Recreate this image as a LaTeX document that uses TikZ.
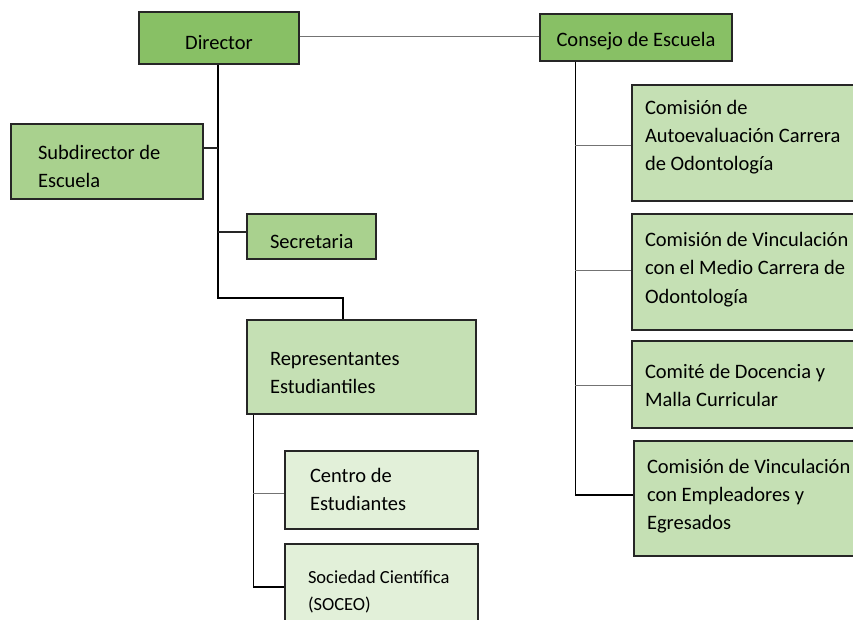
\documentclass[tikz,border=0pt]{standalone}
\usepackage{fontspec}
\setmainfont{Carlito}
\definecolor{gA}{HTML}{88C065}
\definecolor{gB}{HTML}{A9D18E}
\definecolor{gC}{HTML}{C5E0B4}
\definecolor{gD}{HTML}{E2F0D9}
\begin{document}
\begin{tikzpicture}[x=1pt,y=-1pt,
  box/.style={draw=black!85, line width=1.1pt, inner ysep=0pt,
    font=\fontsize{20.5}{28}\selectfont},
  lbox/.style={box, align=flush left},
  trunk/.style={black, line width=1.3pt},
  branch/.style={black!55, line width=0.9pt},
  lbranch/.style={black!85, line width=1.1pt}]
\useasboundingbox (0,0) rectangle (853,620);
\clip (0,0) rectangle (853,620);

% left side
\node[box, fill=gA, minimum width=160, minimum height=52, inner xsep=0pt, text height=30pt, text depth=6pt] (dir) at (219,38) {Director};
\node[lbox, fill=gB, minimum width=192, minimum height=75, inner xsep=27, text width=138, text height=20pt, text depth=23pt] (sub) at (107,161.5) {Subdirector de\\Escuela};
\node[lbox, fill=gB, minimum width=129, minimum height=45, inner xsep=23, text width=83, text height=30pt, text depth=7pt] (sec) at (311.5,236.5) {Secretaria};
\node[lbox, fill=gC, minimum width=229, minimum height=94, inner xsep=23, text width=183, text height=20pt, text depth=24pt] (rep) at (361.5,367) {Representantes\\Estudiantiles};
\node[lbox, fill=gD, minimum width=193, minimum height=78, inner xsep=25, text width=143, text height=20pt, text depth=36pt] (cen) at (381.5,490) {Centro de\\Estudiantes};
\node[lbox, fill=gD, minimum width=193, minimum height=96, inner xsep=23, text width=147,
  font=\fontsize{18.5}{27}\selectfont, text height=20pt, text depth=38pt] (soc) at (381.5,592) {Sociedad Científica\\(SOCEO)};

% right side
\node[box, fill=gA, minimum width=192, minimum height=47, inner xsep=0pt, text height=30pt, text depth=11pt] (con) at (636,37.5) {Consejo de Escuela};
\node[lbox, fill=gC, minimum width=238, minimum height=116, inner xsep=13, text width=212, text height=20pt, text depth=76pt] (c1) at (751,143) {Comisión de\\Autoevaluación Carrera\\de Odontología};
\node[lbox, fill=gC, minimum width=238, minimum height=116, inner xsep=13, text width=212, text height=20pt, text depth=70pt] (c2) at (751,272) {Comisión de Vinculación\\con el Medio Carrera de\\Odontología};
\node[lbox, fill=gC, minimum width=238, minimum height=87, inner xsep=13, text width=212, text height=20pt, text depth=33pt] (c3) at (751,384.5) {Comité de Docencia y\\Malla Curricular};
\node[lbox, fill=gC, minimum width=238, minimum height=115, inner xsep=13, text width=212, text height=20pt, text depth=71pt] (c4) at (753,498.5) {Comisión de Vinculación\\con Empleadores y\\Egresados};

% connectors
\draw[branch] (dir.east |- 0,36) -- (con.west |- 0,36);
\coordinate (dt) at ([xshift=-1]dir.south);
\draw[trunk] (dt) |- (343,298) coordinate (dk) -- (rep.north -| dk);
\draw[lbranch] (sub.east |- 0,148) -- (dt |- 0,148);
\draw[lbranch] (sec.west |- 0,232) -- (dt |- 0,232);

\coordinate (rt) at ([xshift=7]rep.south west);
\draw[trunk] (rt) |- (soc.west |- 0,587);
\draw[branch] (rt |- 0,493) -- (cen.west |- 0,493);

\coordinate (ct) at ([xshift=36]con.south west);
\draw[trunk] (ct) |- (c4.west |- 0,495);
\draw[branch] (ct |- 0,145) -- (c1.west |- 0,145);
\draw[branch] (ct |- 0,270) -- (c2.west |- 0,270);
\draw[branch] (ct |- 0,385) -- (c3.west |- 0,385);
\end{tikzpicture}
\end{document}
